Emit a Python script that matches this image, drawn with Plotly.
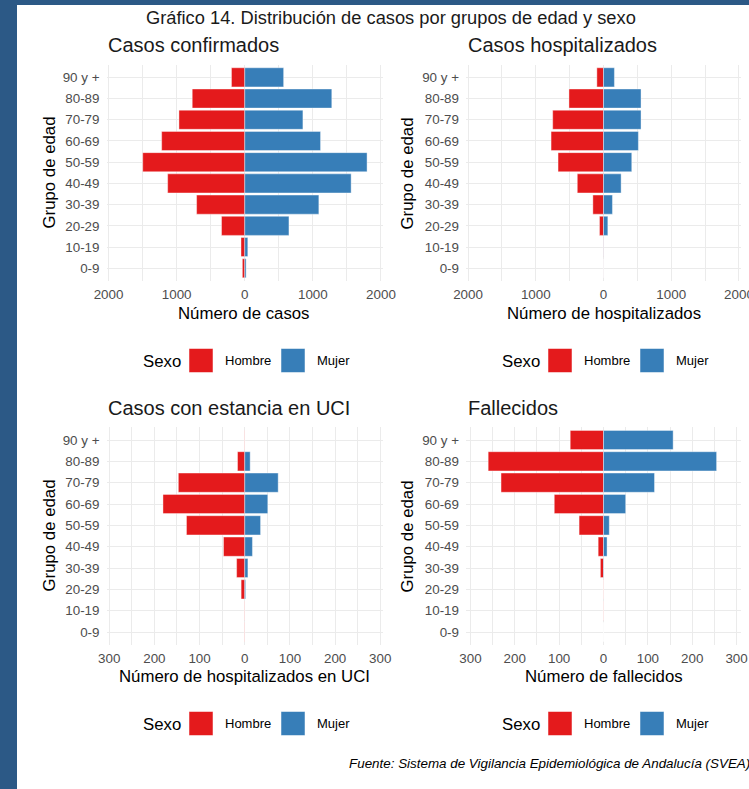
import plotly.graph_objects as go

W, H = 749, 789

# ---------------- data ----------------
grupos = ["0-9", "10-19", "20-29", "30-39", "40-49", "50-59", "60-69", "70-79", "80-89", "90 y +"]

confirmados_hombre = [35, 55, 341, 707, 1132, 1498, 1220, 966, 771, 195]
confirmados_mujer = [20, 45, 649, 1088, 1562, 1796, 1113, 854, 1278, 571]

hosp_hombre = [2, 5, 59, 157, 387, 671, 774, 750, 510, 98]
hosp_mujer = [1, 3, 64, 132, 260, 417, 515, 554, 554, 161]

uci_hombre = [1, 1, 8, 18, 47, 129, 181, 147, 16, 1]
uci_mujer = [0, 0, 2, 7, 17, 35, 51, 74, 12, 0]

fall_hombre = [0, 1, 1, 7, 12, 55, 111, 231, 260, 75]
fall_mujer = [0, 0, 0, 1, 8, 13, 50, 115, 255, 157]

ticks_casos = [-2000, -1000, 0, 1000, 2000]
ticks_casos_txt = ["2000", "1000", "0", "1000", "2000"]
ticks_uci = [-300, -200, -100, 0, 100, 200, 300]
ticks_uci_txt = ["300", "200", "100", "0", "100", "200", "300"]

titulos = ["Casos confirmados", "Casos hospitalizados", "Casos con estancia en UCI", "Fallecidos"]
ejes_x = ["Número de casos", "Número de hospitalizados", "Número de hospitalizados en UCI", "Número de fallecidos"]
titulo_general = "Gráfico 14. Distribución de casos por grupos de edad y sexo"
fuente = "Fuente: Sistema de Vigilancia Epidemiológica de Andalucía (SVEA)"

ROJO = "#E41A1C"
AZUL = "#377EB8"
FONDO = "#2c5986"
FONT = "Liberation Sans, Arial, sans-serif"


def px(x):
    return x / W


def py(y):
    return 1 - y / H


fig = go.Figure()

paneles = [
    (confirmados_hombre, confirmados_mujer, "x", "y"),
    (hosp_hombre, hosp_mujer, "x2", "y2"),
    (uci_hombre, uci_mujer, "x3", "y3"),
    (fall_hombre, fall_mujer, "x4", "y4"),
]

for h, m, xa, ya in paneles:
    fig.add_trace(go.Bar(
        y=grupos, x=[-v for v in h], orientation="h", width=0.9,
        marker=dict(color=ROJO, line=dict(color="white", width=0.4)),
        xaxis=xa, yaxis=ya, showlegend=False, name="Hombre"))
    fig.add_trace(go.Bar(
        y=grupos, x=m, orientation="h", width=0.9,
        marker=dict(color=AZUL, line=dict(color="white", width=0.4)),
        xaxis=xa, yaxis=ya, showlegend=False, name="Mujer"))

GRID = "#ebebeb"

left_dom = [px(106.5), px(383)]
right_dom = [px(466), px(741)]
top_dom = [py(281), py(64.6)]
bot_dom = [py(644.8), py(427.2)]


def xaxis(dom, rng, tv, tt, dt_minor, anchor):
    return dict(domain=dom, range=rng, tickvals=tv, ticktext=tt,
                showgrid=True, gridcolor=GRID, gridwidth=1,
                minor=dict(showgrid=True, gridcolor=GRID, gridwidth=0.5, dtick=dt_minor, tick0=0),
                zeroline=False, showline=False, ticks="", automargin=False,
                ticklabelstandoff=4, ticklabeloverflow="allow",
                tickfont=dict(family=FONT, size=13.4, color="#4d4d4d"),
                anchor=anchor, fixedrange=True)


def yaxis(dom, anchor):
    return dict(domain=dom, type="category", categoryorder="array", categoryarray=grupos,
                range=[-0.6, 9.6], showgrid=True, gridcolor=GRID, gridwidth=1,
                zeroline=False, showline=False, ticks="", ticklabelstandoff=6, automargin=False,
                tickfont=dict(family=FONT, size=13.4, color="#4d4d4d"),
                anchor=anchor, fixedrange=True)


fig.update_layout(
    width=W, height=H, autosize=False,
    margin=dict(l=0, r=0, t=0, b=0, pad=0),
    paper_bgcolor=FONDO, plot_bgcolor="rgba(0,0,0,0)",
    barmode="relative",
    showlegend=False,
    xaxis=xaxis(left_dom, [-2030, 2030], ticks_casos, ticks_casos_txt, 500, "y"),
    xaxis2=xaxis(right_dom, [-2030, 2030], ticks_casos, ticks_casos_txt, 500, "y2"),
    xaxis3=xaxis(left_dom, [-306, 306], ticks_uci, ticks_uci_txt, 50, "y3"),
    xaxis4=xaxis(right_dom, [-310, 310], ticks_uci, ticks_uci_txt, 50, "y4"),
    yaxis=yaxis(top_dom, "x"),
    yaxis2=yaxis(top_dom, "x2"),
    yaxis3=yaxis(bot_dom, "x3"),
    yaxis4=yaxis(bot_dom, "x4"),
)

shapes = [dict(type="rect", xref="paper", yref="paper", x0=px(17), x1=1.0, y0=0, y1=py(5),
               fillcolor="white", line=dict(width=0), layer="below")]
ann = []


def text(t, x, y, size, xanchor="center", color="#000000", angle=0, italic=False):
    ann.append(dict(text=t, x=px(x), y=py(y), xref="paper", yref="paper", showarrow=False,
                    xanchor=xanchor, yanchor="middle", textangle=angle,
                    font=dict(family=FONT, size=size, color=color,
                              style="italic" if italic else "normal")))


text(titulo_general, 390.5, 17, 18.3, color="#1a1a1a")

# panel titles
text(titulos[0], 106, 45, 20, xanchor="left", color="#1a1a1a")
text(titulos[1], 465.5, 45, 20, xanchor="left", color="#1a1a1a")
text(titulos[2], 106, 408, 20, xanchor="left", color="#1a1a1a")
text(titulos[3], 465.5, 408, 20, xanchor="left", color="#1a1a1a")

# x axis titles
text(ejes_x[0], 244.5, 313, 16.8)
text(ejes_x[1], 603.5, 313, 16.8)
text(ejes_x[2], 244.5, 676, 16.8)
text(ejes_x[3], 603.5, 676, 16.8)

# y axis titles
for xx, yy in [(48.5, 173), (406.5, 173), (48.5, 536), (406.5, 536)]:
    text("Grupo de edad", xx, yy, 16.8, angle=-90)

# legends
for ox, cy in [(0, 360.5), (359, 360.5), (0, 723.5), (359, 723.5)]:
    text("Sexo", 140.7 + ox, cy + 1, 16.8, xanchor="left")
    for x0, col, lab, lx in [(189, ROJO, "Hombre", 223), (281, AZUL, "Mujer", 315)]:
        shapes.append(dict(type="rect", xref="paper", yref="paper",
                           x0=px(x0 + ox), x1=px(x0 + 24 + ox), y0=py(cy + 12), y1=py(cy - 12),
                           fillcolor=col, line=dict(color="white", width=0.5)))
        text(lab, lx + ox, cy, 13, xanchor="left")

text(fuente, 752, 763.5, 13.4, xanchor="right", italic=True)

fig.update_layout(shapes=shapes, annotations=ann)

fig.write_html(
    "out.html",
    config={"responsive": False, "displayModeBar": False},
    post_script="document.body.style.margin='0';document.body.style.overflow='hidden';",
)
